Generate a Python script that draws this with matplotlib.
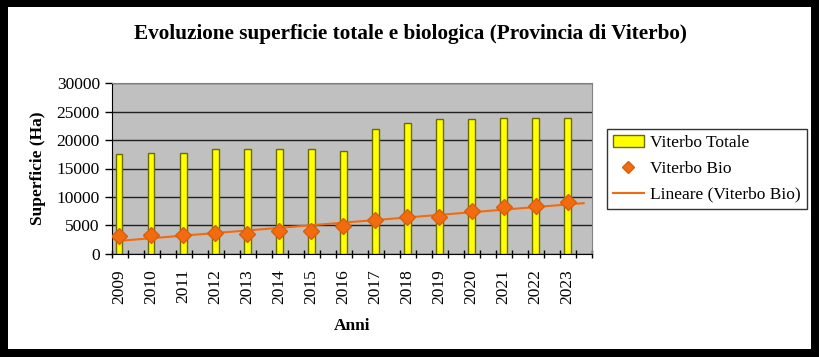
import numpy as np
import matplotlib.pyplot as plt
from matplotlib.patches import Rectangle
from matplotlib.ticker import MultipleLocator, FixedLocator

anni = ['2009', '2010', '2011', '2012', '2013', '2014', '2015', '2016',
        '2017', '2018', '2019', '2020', '2021', '2022', '2023']
totale = [17600, 17700, 17700, 18500, 18500, 18500, 18400, 18000,
          22000, 23000, 23650, 23650, 23830, 23950, 23950]
bio = [3150, 3290, 3350, 3590, 3530, 3940, 4050, 4950,
       5930, 6510, 6450, 7520, 8280, 8400, 9050]

plt.rcParams['font.family'] = ['Liberation Serif', 'DejaVu Serif']
fs = 12.5

fig = plt.figure(figsize=(8.2, 3.57), dpi=100, facecolor='black')
# cornice nera attorno al grafico
fig.patches.append(Rectangle((8/820, 8/357), 803/820, 342/357,
                             transform=fig.transFigure, facecolor='white',
                             edgecolor='none', zorder=-10))

ax = fig.add_axes([111.7/820, 103.3/357, 480.6/820, 170.4/357])
ax.set_facecolor('#C0C0C0')

x = np.arange(len(anni))
b = ax.bar(x, totale, width=0.21, color='#FFFF00', edgecolor='#6B6B00',
           linewidth=1, label='Viterbo Totale', zorder=2)
p, = ax.plot(x, bio, linestyle='none', marker='D', markersize=8.5,
             color='#F26B0F', markeredgecolor='#D9600A', label='Viterbo Bio', zorder=4)

# linea di tendenza
m, q = np.polyfit(x, bio, 1)
xt = np.array([0, len(anni) - 0.5])
l, = ax.plot(xt, m * xt + q, color='#F26B0F', linewidth=1.5,
             label='Lineare (Viterbo Bio)', zorder=3)

ax.set_xlim(-0.23, len(anni) - 0.23)
ax.set_ylim(0, 30000)
ax.yaxis.set_major_locator(MultipleLocator(5000))
ax.grid(axis='y', color='#202020', linewidth=1, zorder=1)
ax.set_axisbelow(True)

ax.set_xticks(x)
ax.set_xticklabels(anni, rotation=90, fontsize=fs)
ax.xaxis.set_minor_locator(FixedLocator(np.arange(-0.23, len(anni), 0.5)))
ax.tick_params(axis='x', which='major', length=0, pad=11)
ax.tick_params(axis='x', which='minor', length=6, width=1, direction='inout')
ax.tick_params(axis='y', length=5, width=1, labelsize=fs)

for s in ['top', 'right']:
    ax.spines[s].set_color('#808080')
for s in ['left', 'bottom']:
    ax.spines[s].set_color('black')

ax.set_xlabel('Anni', fontsize=fs, fontweight='bold', labelpad=10)
ax.set_ylabel('Superficie (Ha)', fontsize=fs, fontweight='bold', labelpad=8)
fig.text(0.5, 1 - 34/357, 'Evoluzione superficie totale e biologica (Provincia di Viterbo)',
         ha='center', va='center', fontsize=15.3, fontweight='bold')

leg = fig.legend([b, p, l], ['Viterbo Totale', 'Viterbo Bio', 'Lineare (Viterbo Bio)'],
                 loc='upper left', bbox_to_anchor=(606.7/820, 1 - 129/357),
                 fontsize=fs, frameon=True, fancybox=False, borderpad=0.35,
                 handlelength=1.8, handletextpad=0.35, labelspacing=0.55,
                 borderaxespad=0, markerscale=0.7)
leg.get_frame().set_edgecolor('black')
leg.get_frame().set_linewidth(1)

fig.savefig('out.png', dpi=100, facecolor='black')
